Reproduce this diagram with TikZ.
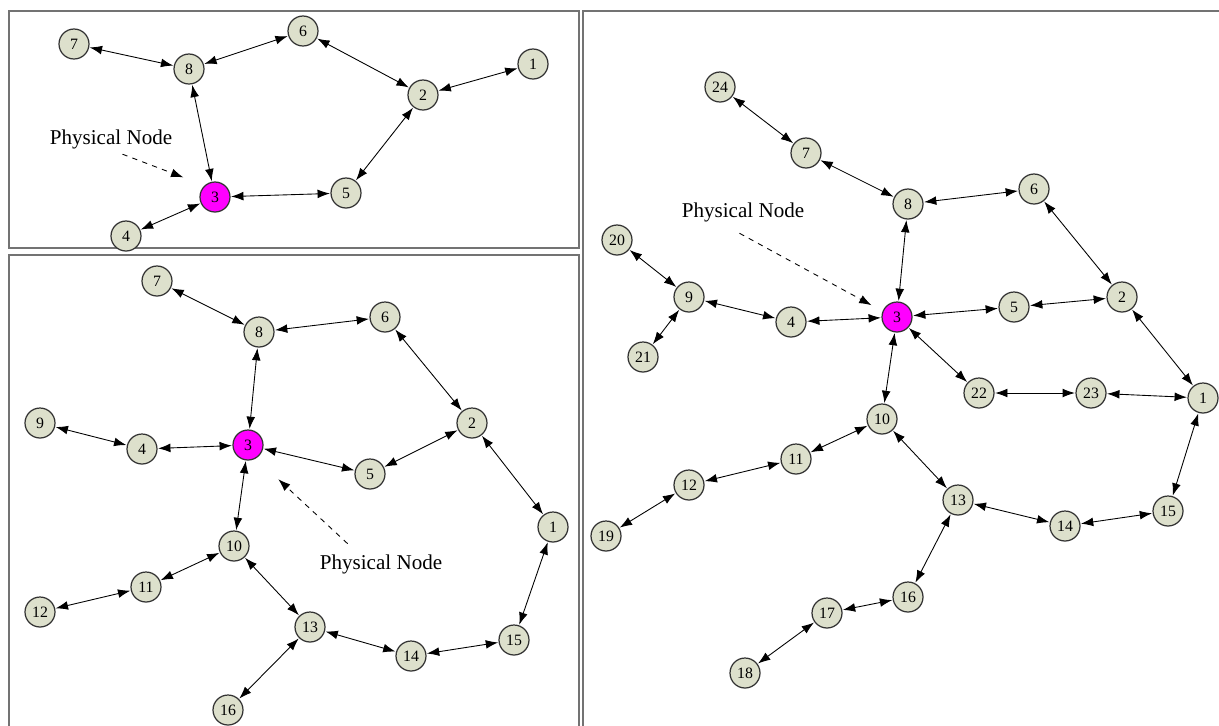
\documentclass[tikz,border=0pt]{standalone}
\usepackage{fontspec}
\setmainfont{Liberation Serif}
\usetikzlibrary{arrows.meta}

\begin{document}
\begin{tikzpicture}[x=0.02cm, y=-0.02cm, <->, >={Latex[length=7pt,width=5pt]}, shorten >=0.3pt, shorten <=0.3pt, line width=0.5pt]
	\definecolor{nodegreen}{RGB}{221,224,204}
	\definecolor{physpink}{RGB}{255,0,255}
	\tikzset{vnode/.style={circle, draw=black!80, line width=0.7pt, fill=nodegreen, minimum size=0.6cm, inner sep=0pt, font=\fontsize{9}{10}\selectfont},
		pnode/.style={vnode, fill=physpink},
		panel/.style={draw=black!55, line width=1.2pt},
		tagtext/.style={font=\fontsize{12}{14}\selectfont},
		pointer/.style={->, dashed, shorten >=1pt}}
	\useasboundingbox (0,0) rectangle (1219,725);
	
	% panels
	\draw[panel, -] (9,11) rectangle (579,248);
	\draw[panel, -] (9,255) rectangle (579,728);
	\draw[panel, -] (583,11) rectangle (1222,728);
	
	% top left
	\node[vnode] (a7) at (74,44) {7};
	\node[vnode] (a8) at (189,69) {8};
	\node[vnode] (a6) at (303,31) {6};
	\node[vnode] (a2) at (423,95) {2};
	\node[vnode] (a1) at (533,64) {1};
	\node[vnode] (a5) at (346,193) {5};
	\node[pnode] (a3) at (215,197) {3};
	\node[vnode] (a4) at (126,236) {4};
	\node[tagtext] (aphy) at (111,139) {Physical Node};
	\coordinate (atail) at (122,154);
	
	\path (a7) edge (a8)
		  (a8) edge (a6)
		  (a6) edge (a2)
		  (a2) edge (a1)
		  (a8) edge (a3)
		  (a2) edge (a5)
		  (a5) edge (a3)
		  (a3) edge (a4);
	\draw[pointer] (atail) -- (185,178);
	
	% bottom left
	\node[vnode] (b7) at (157,281) {7};
	\node[vnode] (b8) at (259,332) {8};
	\node[vnode] (b6) at (385,317) {6};
	\node[vnode] (b9) at (40,423) {9};
	\node[vnode] (b4) at (142,449) {4};
	\node[pnode] (b3) at (248,445) {3};
	\node[vnode] (b2) at (472,423) {2};
	\node[vnode] (b5) at (370,474) {5};
	\node[vnode] (b1) at (553,527) {1};
	\node[vnode] (b10) at (234,546) {10};
	\node[vnode] (b11) at (146,587) {11};
	\node[vnode] (b12) at (40,612) {12};
	\node[vnode] (b13) at (310,627) {13};
	\node[vnode] (b14) at (411,656) {14};
	\node[vnode] (b15) at (514,640) {15};
	\node[vnode] (b16) at (228,710) {16};
	\node[tagtext] (bphy) at (381,564) {Physical Node};
	\coordinate (btail) at (348,544);
	
	\path (b7) edge (b8)
		  (b8) edge (b6)
		  (b6) edge (b2)
		  (b8) edge (b3)
		  (b9) edge (b4)
		  (b4) edge (b3)
		  (b3) edge (b5)
		  (b5) edge (b2)
		  (b2) edge (b1)
		  (b3) edge (b10)
		  (b10) edge (b11)
		  (b11) edge (b12)
		  (b10) edge (b13)
		  (b13) edge (b14)
		  (b14) edge (b15)
		  (b15) edge (b1)
		  (b13) edge (b16);
	\draw[pointer] (btail) -- (277,478);
	
	% right
	\node[vnode] (c24) at (720,87) {24};
	\node[vnode] (c7) at (806,153) {7};
	\node[vnode] (c8) at (908,204) {8};
	\node[vnode] (c6) at (1034,189) {6};
	\node[vnode] (c20) at (617,240) {20};
	\node[vnode] (c9) at (689,297) {9};
	\node[vnode] (c21) at (643,357) {21};
	\node[vnode] (c4) at (791,322) {4};
	\node[pnode] (c3) at (897,317) {3};
	\node[vnode] (c5) at (1014,307) {5};
	\node[vnode] (c2) at (1122,297) {2};
	\node[vnode] (c22) at (979,393) {22};
	\node[vnode] (c23) at (1091,393) {23};
	\node[vnode] (c1) at (1203,398) {1};
	\node[vnode] (c10) at (882,419) {10};
	\node[vnode] (c11) at (796,459) {11};
	\node[vnode] (c12) at (689,485) {12};
	\node[vnode] (c19) at (606,536) {19};
	\node[vnode] (c13) at (958,500) {13};
	\node[vnode] (c14) at (1065,526) {14};
	\node[vnode] (c15) at (1168,511) {15};
	\node[vnode] (c16) at (908,597) {16};
	\node[vnode] (c17) at (827,613) {17};
	\node[vnode] (c18) at (745,673) {18};
	\node[tagtext] (cphy) at (743,212) {Physical Node};
	\coordinate (ctail) at (739,233);
	
	\path (c24) edge (c7)
		  (c7) edge (c8)
		  (c8) edge (c6)
		  (c8) edge (c3)
		  (c6) edge (c2)
		  (c20) edge (c9)
		  (c9) edge (c21)
		  (c9) edge (c4)
		  (c4) edge (c3)
		  (c3) edge (c5)
		  (c5) edge (c2)
		  (c2) edge (c1)
		  (c3) edge (c22)
		  (c22) edge (c23)
		  (c23) edge (c1)
		  (c3) edge (c10)
		  (c10) edge (c11)
		  (c11) edge (c12)
		  (c12) edge (c19)
		  (c10) edge (c13)
		  (c13) edge (c14)
		  (c14) edge (c15)
		  (c15) edge (c1)
		  (c13) edge (c16)
		  (c16) edge (c17)
		  (c17) edge (c18);
	\draw[pointer] (ctail) -- (873,306);
\end{tikzpicture}
\end{document}
